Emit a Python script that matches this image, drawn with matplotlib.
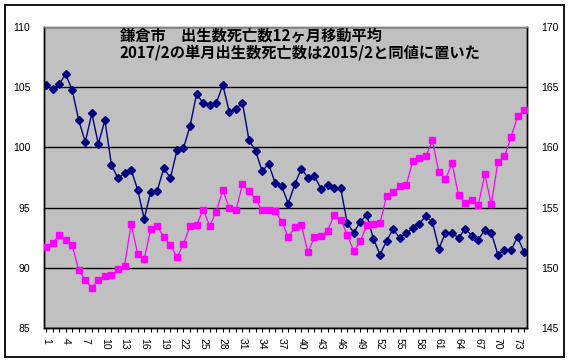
import matplotlib
matplotlib.use("Agg")
import matplotlib.pyplot as plt
from matplotlib.patches import Rectangle
import numpy as np

plt.rcParams['font.family'] = ['Liberation Sans', 'Noto Sans CJK JP', 'DejaVu Sans']

# 12-month moving averages (left axis: births, right axis: deaths)
births = [105.19, 104.83, 105.25, 106.08, 104.78, 102.27, 100.44, 102.82, 100.28, 102.27,
          98.54, 97.43, 97.87, 98.15, 96.49, 94.06, 96.33, 96.41, 98.31, 97.43,
          99.75, 99.94, 101.77, 104.45, 103.67, 103.54, 103.67, 105.19, 102.93, 103.18,
          103.70, 100.61, 99.72, 98.04, 98.62, 97.04, 96.77, 95.33, 96.96, 98.23,
          97.49, 97.62, 96.55, 96.91, 96.66, 96.60, 93.73, 92.90, 93.84, 94.39,
          92.40, 91.10, 92.21, 93.23, 92.49, 92.85, 93.31, 93.65, 94.31, 93.81,
          91.60, 92.90, 92.90, 92.49, 93.23, 92.68, 92.32, 93.15, 92.90, 91.10,
          91.44, 91.44, 92.57, 91.30]
deaths = [151.71, 152.04, 152.71, 152.35, 151.88, 149.81, 148.98, 148.31, 148.98, 149.34,
          149.39, 149.86, 150.19, 153.62, 151.16, 150.72, 153.20, 153.45, 152.54, 151.88,
          150.88, 151.96, 153.48, 153.54, 154.83, 153.48, 154.67, 156.44, 154.94, 154.78,
          156.93, 156.35, 155.69, 154.78, 154.78, 154.70, 153.84, 152.54, 153.37, 153.54,
          151.30, 152.54, 152.62, 153.09, 154.36, 154.01, 152.76, 151.38, 152.21, 153.54,
          153.62, 153.70, 155.94, 156.27, 156.77, 156.85, 158.84, 159.09, 159.25, 160.58,
          157.93, 157.35, 158.67, 156.02, 155.36, 155.61, 155.19, 157.76, 155.28, 158.76,
          159.25, 160.83, 162.57, 163.07]
months = np.arange(1, len(births) + 1)
title_lines = ["鎌倉市\u3000出生数死亡数12ヶ月移動平均",
               "2017/2の単月出生数死亡数は2015/2と同値に置いた"]

fig = plt.figure(figsize=(5.71, 3.63), dpi=100)
fig.patch.set_facecolor("white")
fig.patches.append(Rectangle((5 / 571, 1 - 357 / 363), 559 / 571, 352 / 363,
                             transform=fig.transFigure, fill=False,
                             edgecolor="black", linewidth=1.3))

ax = fig.add_axes([44 / 571, 1 - 328 / 363, 483 / 571, 301 / 363])
ax.set_facecolor("#C0C0C0")
ax2 = ax.twinx()

ax.plot(months, births, color="#000080", linewidth=1, marker="D",
        markersize=4.5, zorder=3)
ax2.plot(months, deaths, color="#FF00FF", linewidth=0.9, marker="s",
         markersize=5, zorder=3)

ax.set_ylim(85, 110)
ax2.set_ylim(145, 170)
ax.set_yticks(np.arange(85, 111, 5))
ax2.set_yticks(np.arange(145, 171, 5))
ax.set_xlim(0.7, 74.45)
ax.grid(axis="y", color="black", linewidth=1)
ax.set_axisbelow(True)

ax.set_xticks(months[::3])
ax.set_xticklabels([str(m) for m in months[::3]], rotation=270, fontsize=7.5)
ax.set_xticks(months, minor=True)
ax.tick_params(axis="x", which="both", length=3, width=0.8, direction="out", pad=4)
ax.tick_params(axis="y", length=0, pad=10, labelsize=7.5)
ax2.tick_params(axis="y", length=0, pad=10, labelsize=7.5)

for a in (ax, ax2):
    a.spines["top"].set_color("#808080")
    a.spines["left"].set_color("black")
    a.spines["right"].set_color("black")
    a.spines["bottom"].set_color("black")
    for s in a.spines.values():
        s.set_linewidth(1)

fig.text(120 / 571, 1 - 36 / 363, title_lines[0], fontsize=11, fontweight="bold",
         family=["Noto Sans CJK JP"], va="center", ha="left")
fig.text(120 / 571, 1 - 52.5 / 363, title_lines[1], fontsize=11, fontweight="bold",
         family=["Noto Sans CJK JP"], va="center", ha="left")

fig.savefig("out.png", dpi=100, facecolor="white")
